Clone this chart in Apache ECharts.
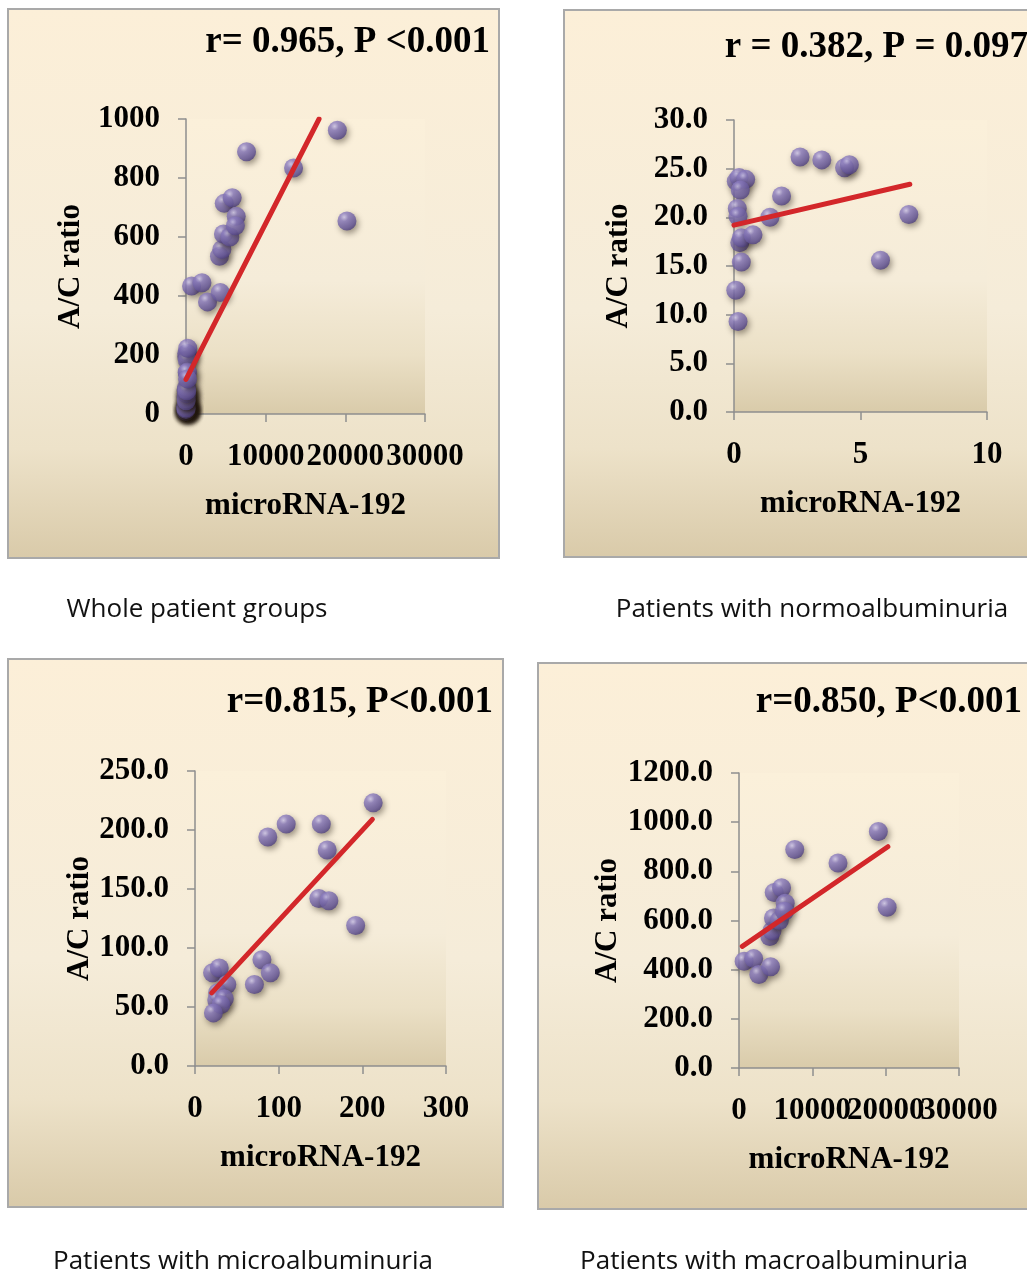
<!DOCTYPE html>
<html>
<head>
<meta charset="utf-8">
<script src="https://cdn.jsdelivr.net/npm/echarts@6/dist/echarts.min.js"></script>
<style>
html,body{margin:0;padding:0;background:#ffffff;}
#main{width:1027px;height:1275px;}
</style>
</head>
<body>
<div id="main"></div>
<script>
// ---- data ----
const normoX = [0.09, 0.2, 0.46, 0.25, 0.13, 0.16, 0.23, 0.29, 0.75, 0.29, 0.07, 0.16, 1.42, 1.88, 2.61, 3.47, 4.37, 4.56, 5.79, 6.91];
const normoY = [23.7, 24.1, 23.9, 22.8, 20.9, 20.1, 17.4, 17.9, 18.2, 15.4, 12.5, 9.3, 20.0, 22.2, 26.2, 25.9, 25.1, 25.4, 15.6, 20.3];

const microX = [21, 29, 38, 27, 26, 35, 31, 22, 71, 80, 90, 87, 109, 151, 158, 148, 160, 192, 213];
const microY = [79, 83, 69, 62, 56, 57, 52, 45, 69, 90, 79, 194, 205, 205, 183, 142, 140, 119, 223];

const macroX = [700, 2000, 2700, 4300, 4200, 4500, 4700, 5500, 4800, 5800, 6300, 6200, 7600, 13500, 19000, 20200];
const macroY = [434, 445, 380, 412, 535, 558, 610, 600, 714, 733, 670, 638, 889, 834, 962, 654];

// linear trend lines (end points)
const wholeTrendX = [0, 16700];
const wholeTrendY = [117, 1000];
const normoTrendX = [0, 6.95];
const normoTrendY = [19.2, 23.4];
const microTrendX = [20, 212];
const microTrendY = [62, 209];
const macroTrendX = [450, 20300];
const macroTrendY = [495, 900];

const titles = ['r= 0.965, P <0.001', 'r = 0.382, P = 0.097', 'r=0.815, P<0.001', 'r=0.850, P<0.001'];
const captions = ['Whole patient groups', 'Patients with normoalbuminuria', 'Patients with microalbuminuria', 'Patients with macroalbuminuria'];
const xName = 'microRNA-192';
const yName = 'A/C ratio';

// ---- build ----
const wholeX = normoX.concat(microX, macroX);
const wholeY = normoY.concat(microY, macroY);
const zip = (a, b) => a.map((v, i) => [v, b[i]]);

const SERIF = '"Liberation Serif", "Times New Roman", serif';
const AXC = '#8e8e8e';

const grids = [
  {left: 186, top: 119, width: 239, height: 295},
  {left: 734, top: 120, width: 253, height: 292},
  {left: 195, top: 771, width: 251, height: 295},
  {left: 739, top: 773, width: 220, height: 295}
];

const labelStyle = {fontFamily: SERIF, fontWeight: 'bold', fontSize: 31, color: '#000'};

function xAx(gi, max, interval, keep) {
  return {
    gridIndex: gi, type: 'value', min: 0, max: max, interval: interval, position: 'bottom',
    name: xName, nameLocation: 'middle', nameGap: 76,
    nameTextStyle: labelStyle,
    axisLine: {show: true, onZero: false, lineStyle: {color: AXC, width: 1.5}},
    axisTick: {show: true, length: 8, lineStyle: {color: AXC, width: 1.5}},
    axisLabel: Object.assign({}, labelStyle, {margin: 27,
      showMinLabel: true, showMaxLabel: true, hideOverlap: false,
      formatter: v => (!keep || keep(v)) ? String(v) : ''}),
    splitLine: {show: false}
  };
}
// extra label-only axis (same grid, same scale) so overlapping tick labels all stay visible
function xLabelsOnly(gi, max, interval, keep) {
  return {
    gridIndex: gi, type: 'value', min: 0, max: max, interval: interval, position: 'bottom', offset: 0,
    axisLine: {show: false, onZero: false}, axisTick: {show: false}, splitLine: {show: false},
    axisLabel: Object.assign({}, labelStyle, {margin: 27,
      showMinLabel: true, showMaxLabel: true, hideOverlap: false,
      formatter: v => keep(v) ? String(v) : ''})
  };
}
function yAx(gi, max, interval, dec) {
  return {
    gridIndex: gi, type: 'value', min: 0, max: max, interval: interval,
    name: yName, nameLocation: 'middle', nameGap: 100,
    nameTextStyle: labelStyle,
    axisLine: {show: true, onZero: false, lineStyle: {color: AXC, width: 1.5}},
    axisTick: {show: true, length: 8, lineStyle: {color: AXC, width: 1.5}},
    axisLabel: Object.assign({}, labelStyle, {margin: 26,
      showMinLabel: true, showMaxLabel: true,
      formatter: v => dec ? v.toFixed(1) : String(v)}),
    splitLine: {show: false}
  };
}

const ballColor = new echarts.graphic.RadialGradient(0.36, 0.3, 0.75, [
  {offset: 0, color: '#d0c8ee'},
  {offset: 0.28, color: '#8e7fc2'},
  {offset: 0.75, color: '#6a5b9f'},
  {offset: 1, color: '#4b3d7c'}
]);

function scatter(i, xs, ys) {
  return {
    type: 'scatter', xAxisIndex: i, yAxisIndex: i, data: zip(xs, ys),
    symbol: 'circle', symbolSize: 19, clip: false, z: 3,
    itemStyle: {color: ballColor, shadowBlur: 6, shadowColor: 'rgba(30,20,10,0.55)', shadowOffsetX: 2, shadowOffsetY: 3}
  };
}
function trend(i, xs, ys) {
  return {
    type: 'line', xAxisIndex: i, yAxisIndex: i, data: zip(xs, ys),
    showSymbol: false, symbol: 'none', z: 4, silent: true,
    lineStyle: {color: '#d3272a', width: 5, cap: 'round'}
  };
}

const frames = [
  {x: 8, y: 9, w: 491, h: 549},
  {x: 564, y: 10, w: 470, h: 547},
  {x: 8, y: 659, w: 495, h: 548},
  {x: 538, y: 663, w: 496, h: 546}
];
const frameGrad = () => new echarts.graphic.LinearGradient(0, 0, 0, 1, [
  {offset: 0, color: '#fcefd8'},
  {offset: 0.55, color: '#f5ecd9'},
  {offset: 0.8, color: '#ede2c9'},
  {offset: 1, color: '#d9caa9'}
]);
const plotGrad = () => new echarts.graphic.LinearGradient(0, 0, 0, 1, [
  {offset: 0, color: '#fbf0da'},
  {offset: 0.55, color: '#f5ecd9'},
  {offset: 0.8, color: '#ebe0c6'},
  {offset: 1, color: '#d9cbaa'}
]);

const titlePos = [[490, 42], [1028, 47], [493, 702], [1022, 702]];
const capPos = [[197, 610], [812, 610], [243, 1262], [774, 1262]];

const elements = [];
frames.forEach(f => {
  elements.push({type: 'rect', z: -100, shape: {x: f.x, y: f.y, width: f.w, height: f.h},
    style: {fill: frameGrad(), stroke: '#a9a9a9', lineWidth: 2}});
});
grids.forEach(g => {
  elements.push({type: 'rect', z: -90, shape: {x: g.left, y: g.top, width: g.width, height: g.height},
    style: {fill: plotGrad()}});
});
titles.forEach((t, i) => {
  elements.push({type: 'text', z: 10, x: titlePos[i][0], y: titlePos[i][1],
    style: {text: t, fill: '#000', fontFamily: SERIF, fontWeight: 'bold', fontSize: 37, align: 'right', verticalAlign: 'middle'}});
});
captions.forEach((t, i) => {
  elements.push({type: 'text', z: 10, x: capPos[i][0], y: capPos[i][1],
    style: {text: t, fill: '#111', fontFamily: '"Open Sans", "Noto Sans", sans-serif', fontSize: 26, align: 'center', verticalAlign: 'middle'}});
});

const evenStep = v => (v / 10000) % 2 === 0;   // 0, 20000
const oddStep = v => (v / 10000) % 2 === 1;    // 10000, 30000

const option = {
  animation: false,
  backgroundColor: '#ffffff',
  grid: grids,
  xAxis: [
    xAx(0, 30000, 10000),
    xAx(1, 10, 5),
    xAx(2, 300, 100),
    xAx(3, 30000, 10000, evenStep),
    xLabelsOnly(3, 30000, 10000, oddStep)
  ],
  yAxis: [yAx(0, 1000, 200, false), yAx(1, 30, 5, true), yAx(2, 250, 50, true), yAx(3, 1200, 200, true)],
  graphic: {elements: elements},
  series: [
    scatter(0, wholeX, wholeY), trend(0, wholeTrendX, wholeTrendY),
    scatter(1, normoX, normoY), trend(1, normoTrendX, normoTrendY),
    scatter(2, microX, microY), trend(2, microTrendX, microTrendY),
    scatter(3, macroX, macroY), trend(3, macroTrendX, macroTrendY)
  ]
};

const chart = echarts.init(document.getElementById('main'));
chart.setOption(option);
</script>
</body>
</html>
